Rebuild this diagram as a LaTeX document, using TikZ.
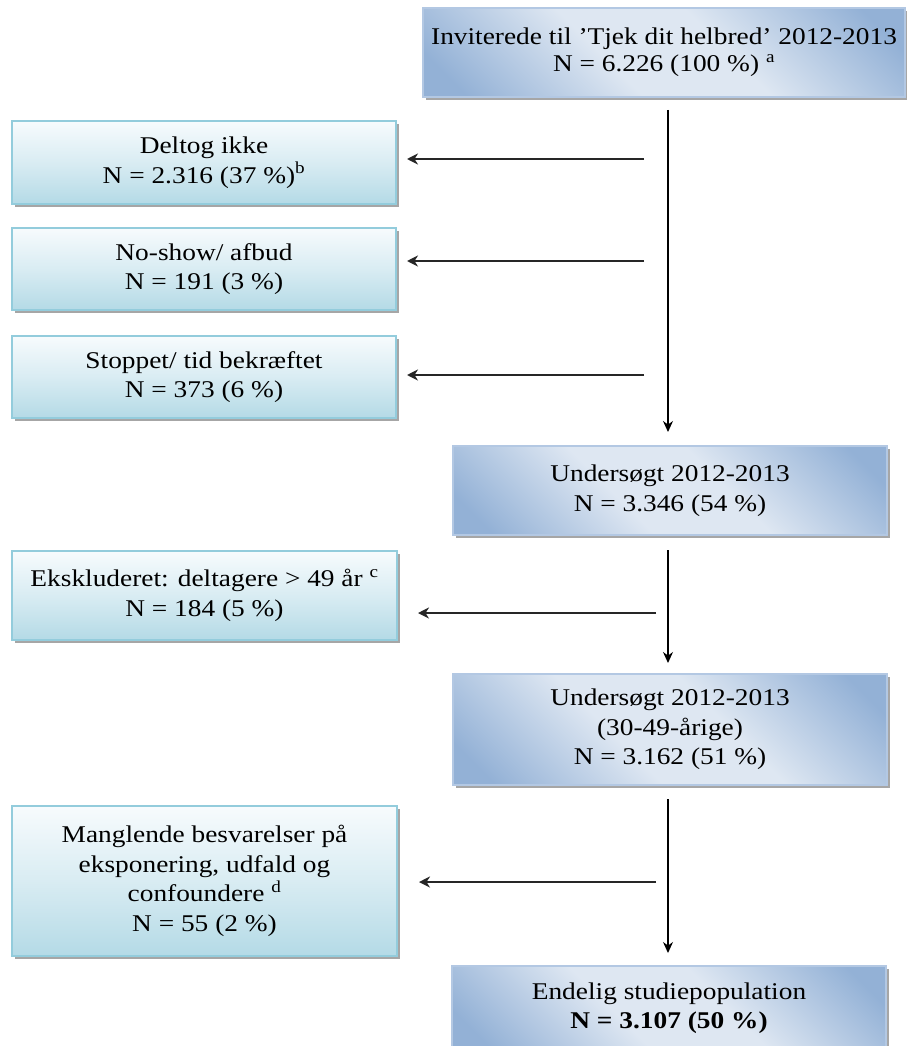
\documentclass[tikz,border=0pt]{standalone}
\usepackage{fontspec}
\setmainfont[FakeStretch=1.14]{Liberation Serif}
\usetikzlibrary{arrows.meta,shadows}
\definecolor{bdark}{HTML}{93B1D6}
\definecolor{blight}{HTML}{DEE7F2}
\definecolor{bborder}{HTML}{B3C8E3}
\definecolor{ctop}{HTML}{F7FBFD}
\definecolor{cbot}{HTML}{B4DAE6}
\definecolor{cborder}{HTML}{93CCDC}
\pgfdeclarehorizontalshading{bluediag}{100bp}{color(0bp)=(bdark); color(20bp)=(bdark); color(42bp)=(blight); color(58bp)=(blight); color(80bp)=(bdark); color(100bp)=(bdark)}
\tikzset{
  boxbase/.style={rectangle, inner sep=0pt, outer sep=0pt, align=center, anchor=north west,
    font=\fontsize{24}{29.5}\selectfont, text=black,
    drop shadow={shadow xshift=3pt, shadow yshift=-3pt, fill=black, opacity=0.35}},
  rbox/.style={boxbase, draw=bborder, line width=1.2pt, shading=bluediag, shading angle=45},
  lbox/.style={boxbase, draw=cborder, line width=1.5pt, top color=ctop, bottom color=cbot, middle color=cbot!45!ctop},
  varr/.style={draw=black, line width=1.4pt, -{Stealth[length=11pt,width=10pt]}},
  harr/.style={draw=black!85, line width=2.2pt, -{Stealth[length=11pt,width=11pt]}}
}
\begin{document}
\begin{tikzpicture}[x=1pt,y=-1pt]
\useasboundingbox[fill=white] (0,0) rectangle (906,1046);
% right column
\node[rbox, minimum width=482pt, minimum height=89pt] (top) at (423,8)
  {\raisebox{4pt}{\shortstack{Inviterede til ’Tjek dit helbred’ 2012-2013\\[2pt]N = 6.226 (100 \%) \textsuperscript{a}}}};
\node[rbox, minimum width=434pt, minimum height=89pt] (u1) at (453,446)
  {Undersøgt 2012-2013\\N = 3.346 (54 \%)};
\node[rbox, minimum width=434pt, minimum height=111pt] (u2) at (453,674)
  {Undersøgt 2012-2013\\(30-49-årige)\\N = 3.162 (51 \%)};
\node[rbox, minimum width=434pt, minimum height=84pt] (end) at (452,966)
  {Endelig studiepopulation\\\textbf{N = 3.107 (50 \%)}};
% left column
\node[lbox, minimum width=384pt, minimum height=83pt] (d1) at (12,121)
  {Deltog ikke\\N = 2.316 (37 \%)\textsuperscript{b}};
\node[lbox, minimum width=384pt, minimum height=82pt] (d2) at (12,228)
  {No-show/ afbud\\N = 191 (3 \%)};
\node[lbox, minimum width=384pt, minimum height=82pt] (d3) at (12,336)
  {Stoppet/ tid bekræftet\\N = 373 (6 \%)};
\node[lbox, minimum width=385pt, minimum height=89pt] (d4) at (12,551)
  {Ekskluderet: deltagere > 49 år \textsuperscript{c}\\N = 184 (5 \%)};
\node[lbox, minimum width=385pt, minimum height=150pt] (d5) at (12,806)
  {Manglende besvarelser på\\eksponering, udfald og\\confoundere \textsuperscript{d}\\N = 55 (2 \%)};
% spine
\coordinate (vx) at (668,0);
\draw[varr, shorten <=13pt, shorten >=14pt] (top.south -| vx) -- (u1.north -| vx);
\draw[varr, shorten <=15pt, shorten >=11pt] (u1.south -| vx) -- (u2.north -| vx);
\draw[varr, shorten <=14pt, shorten >=13pt] (u2.south -| vx) -- (end.north -| vx);
% branches
\coordinate (h1) at (644,159);
\coordinate (h2) at (644,261);
\coordinate (h3) at (644,375);
\coordinate (h4) at (656,613);
\coordinate (h5) at (656,882);
\draw[harr, shorten >=11pt] (h1) -- (d1.east |- h1);
\draw[harr, shorten >=11pt] (h2) -- (d2.east |- h2);
\draw[harr, shorten >=11pt] (h3) -- (d3.east |- h3);
\draw[harr, shorten >=21pt] (h4) -- (d4.east |- h4);
\draw[harr, shorten >=22pt] (h5) -- (d5.east |- h5);
\end{tikzpicture}
\end{document}
